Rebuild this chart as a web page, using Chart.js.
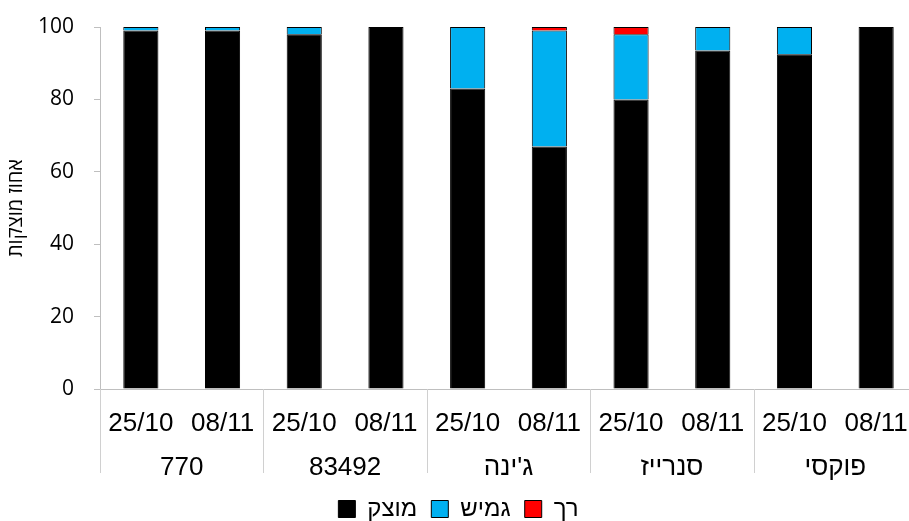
<!DOCTYPE html>
<html>
<head>
<meta charset="utf-8">
<script src="https://cdn.jsdelivr.net/npm/chart.js@4/dist/chart.umd.min.js"></script>
<style>
  html, body { margin: 0; padding: 0; background: #fff; overflow: hidden; }
  #wrap { width: 909px; height: 521px; overflow: hidden; }
  canvas { display: block; }
</style>
</head>
<body>
<div id="wrap"><canvas id="chart" width="918" height="521"></canvas></div>
<script>
// dates under each bar, groups under each pair
const dates = ['25/10', '08/11', '25/10', '08/11', '25/10', '08/11', '25/10', '08/11', '25/10', '08/11'];
const groups = ['770', '83492', "ג'ינה", 'סנרייז', 'פוקסי'];

// percent of fruits per firmness class
const solid = [99, 99, 98, 100, 83, 67, 80, 93.5, 92.5, 100];
const flexible = [1, 1, 2, 0, 17, 32, 18, 6.5, 7.5, 0];
const soft = [0, 0, 0, 0, 0, 1, 2, 0, 0, 0];

const seriesNames = ['מוצק', 'גמיש', 'רך'];
const seriesColors = ['#000000', '#00b0f0', '#ff0000'];

const axisGray = '#bfbfbf';

// vertical separators between the groups, below the x axis
const groupLines = {
	id: 'groupLines',
	afterDraw(chart)
	{
		const x = chart.scales.x;
		const ctx = chart.ctx;
		const top = chart.chartArea.bottom;
		const step = x.getPixelForTick(1) - x.getPixelForTick(0);
		ctx.save();
		ctx.strokeStyle = '#d0d0d0';
		ctx.lineWidth = 1;
		for (let i = 0; i <= groups.length; i++)
		{
			const px = Math.round(x.getPixelForTick(0) - step / 2 + i * 2 * step) + 0.5;
			ctx.beginPath();
			ctx.moveTo(px, top);
			ctx.lineTo(px, top + 84);
			ctx.stroke();
		}
		ctx.restore();
	}
};

const makeSet = (i, values) => ({
	label: seriesNames[i],
	data: values,
	backgroundColor: seriesColors[i],
	borderColor: '#000000',
	borderWidth: 1,
	barPercentage: 0.43,
	categoryPercentage: 1.0
});

const noSidePadding = (scale) =>
{
	scale.paddingLeft = 0;
	scale.paddingRight = 0;
};

new Chart(document.getElementById('chart'),
{
	type: 'bar',
	data:
	{
		labels: dates,
		datasets: [makeSet(0, solid), makeSet(1, flexible), makeSet(2, soft)]
	},
	plugins: [groupLines],
	options:
	{
		responsive: false,
		animation: false,
		layout: { padding: { top: 27, left: 0, right: 1, bottom: -10 } },
		plugins:
		{
			tooltip: { enabled: false },
			legend:
			{
				position: 'bottom',
				labels:
				{
					color: '#000',
					font: { family: 'Liberation Sans', size: 24 },
					boxWidth: 17,
					boxHeight: 17,
					padding: 14,
					useBorderRadius: false
				}
			}
		},
		scales:
		{
			x:
			{
				stacked: true,
				grid: { display: false, drawTicks: false },
				border: { display: true, color: axisGray },
				ticks:
				{
					color: '#000',
					font: { family: 'Liberation Sans', size: 26 },
					padding: 19,
					autoSkip: false,
					maxRotation: 0
				},
				afterFit(scale)
				{
					scale.height = 50;
					noSidePadding(scale);
				}
			},
			x2:
			{
				type: 'category',
				labels: groups,
				position: 'bottom',
				offset: true,
				grid: { display: false, drawTicks: false },
				border: { display: false },
				ticks:
				{
					color: '#000',
					font: { family: 'Liberation Sans', size: 26 },
					padding: 13,
					autoSkip: false,
					maxRotation: 0
				},
				afterFit(scale)
				{
					scale.height = 44;
					noSidePadding(scale);
				}
			},
			y:
			{
				stacked: true,
				min: 0,
				max: 100,
				grid: { display: true, drawOnChartArea: false, drawTicks: true, tickLength: 6, color: axisGray },
				border: { display: true, color: axisGray },
				ticks:
				{
					stepSize: 20,
					color: '#000',
					font: { family: 'Open Sans', size: 21 },
					padding: 20
				},
				title:
				{
					display: true,
					text: 'אחוז מוצקות',
					color: '#000',
					font: { family: 'Open Sans', size: 20 },
					padding: { top: 4, bottom: 0 }
				},
				afterFit(scale)
				{
					scale.width = 100;
					scale.paddingTop = 0;
					scale.paddingBottom = 0;
				}
			}
		}
	}
});
</script>
</body>
</html>
